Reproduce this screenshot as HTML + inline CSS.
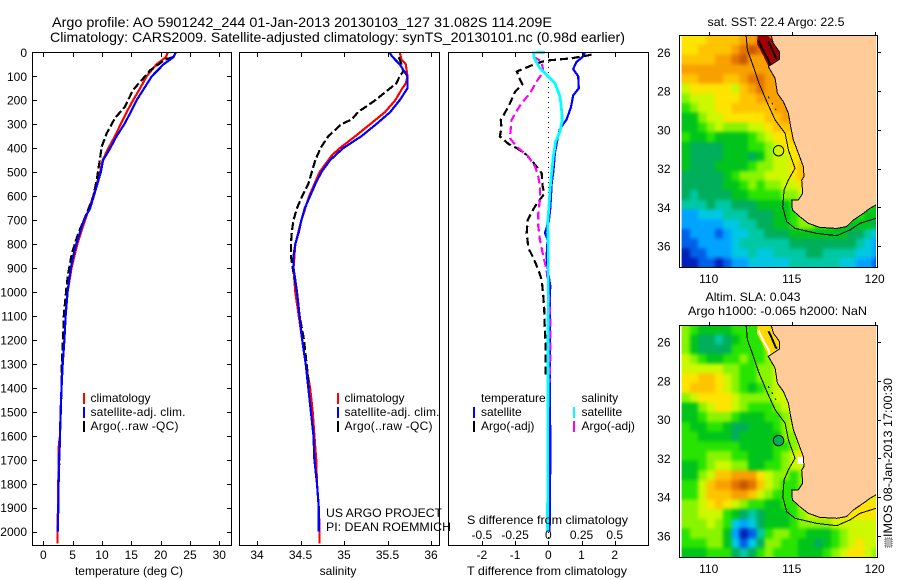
<!DOCTYPE html>
<html><head><meta charset="utf-8"><title>Argo profile</title>
<style>
html,body{margin:0;padding:0;background:#fff;width:900px;height:580px;overflow:hidden}
svg{display:block}
text{font-family:"Liberation Sans",sans-serif;font-size:12px;fill:#000}
.t{font-size:14px}
.ln{fill:none;shape-rendering:crispEdges;stroke-linejoin:round}
.box{fill:none;stroke:#000;stroke-width:1;shape-rendering:crispEdges}
</style></head><body>
<svg id="fig" width="900" height="580" viewBox="0 0 900 580" xmlns="http://www.w3.org/2000/svg">
<defs>
<filter id="smooth" x="-5%" y="-5%" width="110%" height="110%" color-interpolation-filters="sRGB"><feGaussianBlur stdDeviation="1.8"/></filter>
</defs>
<rect width="900" height="580" fill="#fff"/>
<text class="t" x="52" y="27" textLength="500" lengthAdjust="spacingAndGlyphs">Argo profile: AO 5901242_244 01-Jan-2013 20130103_127 31.082S 114.209E</text>
<text class="t" x="50" y="42" textLength="575" lengthAdjust="spacingAndGlyphs">Climatology: CARS2009. Satellite-adjusted climatology: synTS_20130101.nc (0.98d earlier)</text>
<g id="p1"></g>
<g id="p2"></g>
<g id="p3"></g>
<g id="m1"></g>
<g id="m2"></g>

<text x="129" y="575" text-anchor="middle">temperature (deg C)</text>
<text x="338" y="575" text-anchor="middle">salinity</text>
<text x="467" y="575" textLength="160" lengthAdjust="spacingAndGlyphs">T difference from climatology</text>
<text x="467" y="524" textLength="161" lengthAdjust="spacingAndGlyphs">S difference from climatology</text>

<g>
<rect x="83" y="393" width="2" height="11" fill="#f00"/><text x="90.5" y="402">climatology</text>
<rect x="83" y="407" width="2" height="11" fill="#00f"/><text x="90.5" y="416" textLength="95">satellite-adj. clim.</text>
<rect x="83" y="421" width="2" height="11" fill="#000"/><text x="90.5" y="430" textLength="88">Argo(..raw -QC)</text>
</g>
<g>
<rect x="337" y="393" width="2" height="11" fill="#f00"/><text x="344.5" y="402">climatology</text>
<rect x="337" y="407" width="2" height="11" fill="#00f"/><text x="344.5" y="416" textLength="95">satellite-adj. clim.</text>
<rect x="337" y="421" width="2" height="11" fill="#000"/><text x="344.5" y="430" textLength="88">Argo(..raw -QC)</text>
</g>
<g>
<text x="481" y="402">temperature</text>
<rect x="473" y="407" width="2" height="11" fill="#00f"/><text x="481" y="416">satellite</text>
<rect x="473" y="421" width="2" height="11" fill="#000"/><text x="481" y="430">Argo(-adj)</text>
<text x="581.5" y="402">salinity</text>
<rect x="573" y="407" width="2" height="11" fill="#0ff"/><text x="581.5" y="416">satellite</text>
<rect x="573" y="421" width="2" height="11" fill="#f0f"/><text x="581.5" y="430">Argo(-adj)</text>
</g>
<text x="326" y="517" textLength="116" lengthAdjust="spacingAndGlyphs">US ARGO PROJECT</text>
<text x="326" y="531" textLength="125" lengthAdjust="spacingAndGlyphs">PI: DEAN ROEMMICH</text>

<text x="707.5" y="26" textLength="137" lengthAdjust="spacingAndGlyphs">sat. SST: 22.4 Argo: 22.5</text>
<text x="705.5" y="301" textLength="95" lengthAdjust="spacingAndGlyphs">Altim. SLA: 0.043</text>
<text x="688" y="315" textLength="179" lengthAdjust="spacingAndGlyphs">Argo h1000: -0.065 h2000: NaN</text>
<text transform="translate(892,537) rotate(-90)" textLength="159" lengthAdjust="spacingAndGlyphs">IMOS 08-Jan-2013 17:00:30</text>
<rect x="885" y="538" width="7" height="9" fill="#bbb" stroke="#555" stroke-width="1" stroke-dasharray="1 1"/>

<script>
// ---------- depth axis ----------
const depthTicks = [0,100,200,300,400,500,600,700,800,900,1000,1100,1200,1300,1400,1500,1600,1700,1800,1900,2000];

// ---------- temperature profile ----------
const tempTicks = [0,5,10,15,20,25,30];
const climDepthT = [0,20,50,100,150,200,250,300,350,400,450,500,600,700,800,900,1000,1100,1200,1300,1400,1500,1600,1650,1700,1800,1900,2000,2050];
const climTemp = [21.2,20.9,19.3,17.6,16.5,15.3,14.2,13.2,12.2,11.1,10.1,9.7,8.5,7.1,5.8,4.8,4.15,3.8,3.6,3.3,3.1,2.95,2.85,2.6,2.6,2.55,2.5,2.4,2.4];
const satDepthT = [0,20,50,100,150,200,250,300,350,400,450,500,550,600,650,700,750,800,850,900,950,1000,1100,1200,1300,1400,1500,1600,1700,1800,1900,2000];
const satTemp = [22.6,22.2,20.5,18.5,17.2,15.9,14.9,13.8,12.5,11.4,10.2,9.8,9.2,8.6,8.0,6.9,6.25,5.6,5.1,4.7,4.4,4.15,3.8,3.6,3.3,3.1,2.95,2.85,2.7,2.6,2.55,2.45];
const argoDepthT = [20,30,75,115,157,227,275,338,394,464,533,603,672,756,840,923,980,1100,1200,1320,1400,1600,1800];
const argoTemp = [22.1,20.8,18.2,16.8,15.3,13.9,12.2,10.8,9.95,9.55,9.1,8.5,7.4,5.95,4.85,4.25,3.95,3.5,3.35,3.1,3.1,2.85,2.6];

// ---------- salinity profile ----------
const salTicks = [34,34.5,35,35.5,36];
const climDepthS = [0,30,50,100,130,150,200,250,300,350,400,430,450,500,600,700,800,900,1000,1100,1200,1300,1400,1500,1600,1700,1800,1900,2000,2050];
const climSal = [35.64,35.66,35.71,35.73,35.71,35.67,35.59,35.47,35.3,35.13,34.95,34.86,34.82,34.72,34.6,34.51,34.44,34.42,34.44,34.48,34.52,34.56,34.61,34.64,34.66,34.68,34.69,34.71,34.72,34.72];
const satDepthS = [0,20,50,100,150,200,250,300,350,400,430,450,500,550,600,650,700,750,800,850,900,950,1000,1100,1200,1300,1400,1500,1600,1700,1800,1900,2000];
const satSal = [35.52,35.56,35.64,35.73,35.73,35.64,35.53,35.37,35.2,34.99,34.9,34.84,34.74,34.67,34.61,34.55,34.51,34.48,34.44,34.42,34.42,34.44,34.46,34.49,34.52,34.56,34.59,34.62,34.65,34.66,34.69,34.71,34.71];
const argoDepthS = [20,50,80,100,130,150,200,250,280,300,350,400,450,500,550,600,650,700,750,800,850,900,1000,1100,1200,1300,1400];
const argoSal = [35.63,35.66,35.68,35.64,35.6,35.53,35.36,35.16,35.09,34.97,34.82,34.73,34.67,34.63,34.59,34.52,34.46,34.42,34.4,34.39,34.39,34.41,34.46,34.49,34.54,34.57,34.6];

// ---------- differences from climatology ----------
const diffTTicks = [-2,-1,0,1,2];
const diffSTicks = ["-0.5","-0.25","0","0.25","0.5"];
const diffSValues = [-0.5,-0.25,0,0.25,0.5];
const satDiffDepthT = [0,20,40,70,100,150,180,230,280,320,360,420,500,550,600,650,700,754,782,851,921,976,1000,1400,1700,2000];
const satDiffT = [1.1,1.03,0.85,0.75,0.9,0.92,0.75,0.68,0.55,0.35,0.28,0.2,0.15,0.1,0.08,0.06,0.02,-0.1,-0.02,-0.05,0,0.06,0.05,0.05,0.06,0.04];
const argoDiffDepthT = [10,25,35,49,80,115,133,164,212,251,282,317,351,382,400,428,469,504,560,590,643,699,754,817,858,907,949,1018,1075,1130,1214,1353];
const argoDiffT = [1.3,0.7,-0.1,-0.4,-0.95,-0.85,-0.78,-1.0,-1.15,-1.3,-1.43,-1.41,-1.46,-1.2,-0.95,-0.65,-0.4,-0.2,-0.17,-0.12,-0.4,-0.62,-0.65,-0.6,-0.45,-0.3,-0.2,-0.15,-0.12,-0.11,-0.08,-0.08];
const satDiffDepthS = [0,2,25,67,101,129,185,240,282,330,372,435,504,574,643,712,810,921,1400,2000];
const satDiffS = [-0.025,-0.113,-0.105,-0.063,0,0.05,0.088,0.1,0.105,0.088,0.055,0.038,0.025,0.013,0.005,-0.005,0,0,-0.003,-0.005];
const argoDiffDepthS = [18,39,80,122,171,212,247,282,324,358,393,435,476,518,560,615,671,726,782,851,907,976,1060,1158,1214,1380];
const argoDiffS = [-0.113,-0.05,-0.038,-0.088,-0.138,-0.2,-0.24,-0.276,-0.284,-0.289,-0.24,-0.15,-0.1,-0.075,-0.063,-0.063,-0.075,-0.075,-0.063,-0.038,-0.013,0,0.013,0.015,0.017,0.01];

// ---------- maps: palette levels on a 0.5 degree grid ----------
const levelColors = ["#0020b8","#0060e8","#00a4ff","#00c8e4","#00c8a4","#00ae5c","#00c41c","#28e400","#88f400","#ccf800","#ffe400","#ffc400","#f8a000","#e47400","#c85800","#a00000"];
const mapLonTicks = [110,115,120];
const mapLatTicks = [26,28,30,32,34,36];
const profileLon = [114.209];
const profileLat = [31.082];
const sstGrid = [
[10,10,10,11,11,11,11,12,12,13,13,13,13,12,12,12,12,12,12,12,12,12,12,12],
[10,10,11,11,11,11,12,13,14,13,13,13,12,12,12,12,12,12,12,12,12,12,12,12],
[11,11,11,11,12,12,13,14,12,12,12,12,12,12,12,12,12,12,12,12,12,12,12,12],
[12,12,12,12,12,12,12,12,12,12,12,12,12,12,12,12,12,12,12,12,12,12,12,12],
[11,11,12,12,12,11,11,12,13,13,12,12,12,12,12,12,12,12,12,12,12,12,12,12],
[9,10,10,10,10,10,9,11,12,13,12,12,12,12,12,12,12,12,12,12,12,12,12,12],
[8,9,9,9,10,10,10,11,11,12,12,12,12,12,12,12,12,12,12,12,12,12,12,12],
[7,8,9,9,10,10,11,11,11,11,11,12,12,12,12,12,12,12,12,12,12,12,12,12],
[6,6,8,9,9,10,10,10,10,10,11,11,12,12,12,12,12,12,12,12,12,12,12,12],
[6,6,7,8,9,8,8,8,9,9,10,11,11,11,12,12,12,12,12,12,12,12,12,12],
[7,6,6,7,6,6,6,6,7,8,9,10,10,11,11,12,12,12,12,12,12,12,12,12],
[6,5,5,5,5,6,6,6,7,7,8,9,10,10,11,11,11,12,12,12,12,12,12,12],
[6,5,5,5,5,6,6,6,5,6,8,9,9,10,10,11,11,12,12,12,12,12,12,12],
[6,5,5,5,6,6,6,6,7,8,8,9,9,10,11,11,11,12,12,12,12,12,12,12],
[5,5,5,5,5,6,7,8,8,8,9,9,9,10,11,11,11,11,11,11,11,11,11,11],
[5,5,5,5,5,6,6,7,8,7,8,8,9,9,10,10,10,10,10,10,10,10,10,10],
[5,4,5,5,5,5,6,6,7,7,7,7,8,8,9,10,10,10,10,10,10,10,10,10],
[4,4,4,5,4,4,5,5,5,6,6,6,6,7,8,9,9,9,9,9,9,8,7,6],
[2,2,3,3,3,4,4,4,5,5,5,6,6,7,8,9,7,7,7,7,7,7,6,6],
[2,2,2,2,2,3,3,4,4,5,5,6,6,7,8,8,7,7,6,6,6,6,6,5],
[1,2,2,2,1,2,3,3,4,4,5,5,5,6,6,6,6,6,6,6,5,5,4,3],
[1,1,2,2,2,2,3,4,4,4,4,4,4,5,5,5,5,5,5,5,5,4,3,2],
[0,1,1,2,2,2,3,3,4,3,3,4,4,4,4,5,5,4,4,4,4,3,3,2],
[0,0,1,1,0,1,2,2,3,3,3,3,3,4,4,4,4,4,4,3,3,2,2,1]
];
const slaGrid = [
[8,7,6,6,6,6,7,7,7,7,8,10,11,12,12,12,12,12,12,12,12,12,12,12],
[8,6,5,5,4,5,6,7,7,7,8,9,11,11,12,12,12,12,12,12,12,12,12,12],
[8,6,5,5,5,5,7,7,7,7,8,9,10,11,12,12,12,12,12,12,12,12,12,12],
[9,8,7,6,6,7,7,8,7,7,8,9,10,11,12,12,12,12,12,12,12,12,12,12],
[9,9,9,9,9,8,8,7,7,8,8,9,9,10,11,12,12,12,12,12,12,12,12,12],
[10,10,11,11,10,9,8,7,7,8,8,9,9,10,11,11,12,12,12,12,12,12,12,12],
[10,11,11,11,10,9,8,7,6,7,8,9,9,10,11,11,12,12,12,12,12,12,12,12],
[8,9,10,10,10,10,9,8,8,8,8,9,9,10,11,11,12,12,12,12,12,12,12,12],
[6,6,8,9,10,10,9,8,7,7,7,8,9,9,10,11,11,12,12,12,12,12,12,12],
[6,6,7,8,8,8,7,6,6,6,7,7,8,9,9,11,11,12,12,12,12,12,12,12],
[7,6,6,7,7,6,5,5,6,6,6,7,8,9,9,10,11,12,12,12,12,12,12,12],
[7,7,6,6,6,6,5,6,6,6,6,6,8,8,9,10,11,11,12,12,12,12,12,12],
[7,7,7,7,7,7,7,6,6,6,6,7,7,8,9,9,10,11,12,12,12,12,12,12],
[7,7,7,8,8,8,7,7,6,6,6,7,8,9,10,9,9,11,12,12,12,12,12,12],
[6,6,7,8,9,9,8,8,6,6,7,7,8,9,9,8,10,11,12,12,12,12,12,12],
[6,6,8,9,11,11,12,12,12,10,9,8,8,7,8,9,11,12,12,12,12,12,12,12],
[7,7,9,11,12,12,13,14,13,11,9,8,7,7,8,9,10,12,12,12,12,12,12,12],
[7,7,9,11,11,11,12,12,11,9,8,7,7,7,8,10,8,9,10,10,10,10,9,9],
[8,8,9,10,11,10,9,8,7,7,6,6,7,7,9,10,10,9,10,10,10,10,10,10],
[8,8,9,9,9,7,6,5,4,5,6,6,6,7,8,9,10,10,10,10,10,10,10,10],
[8,8,8,9,8,7,3,2,3,5,6,6,6,7,8,8,8,8,9,9,9,9,9,9],
[7,8,8,8,8,6,2,0,1,4,7,8,8,7,7,6,6,6,7,8,9,9,9,9],
[7,7,7,8,8,6,3,1,3,5,8,8,7,7,6,6,5,6,7,8,9,10,9,9],
[6,6,6,7,7,7,5,4,5,7,8,7,7,7,6,6,6,7,8,9,10,10,9,8]
];
const coastLon = [113.76,113.9,114.26,114.26,113.59,114.0,114.14,114.5,114.8,114.94,115.1,115.4,115.7,115.74,115.6,115.66,115.4,115.0,115.04,115.5,116.0,116.7,117.71,118.31,118.71,119.32,119.72,120.08];
const coastLat = [25.12,25.54,25.97,26.36,26.74,27.34,28.12,28.55,29.15,29.84,30.53,31.2,31.9,32.42,32.6,33.28,33.62,33.62,34.14,34.49,34.83,35.04,35.09,35.0,34.66,34.31,34.05,33.88];
const isobathLon = [112.25,112.33,112.69,113.03,113.59,114.0,114.6,114.8,115.2,114.8,114.54,114.46,114.7,115.2,116.51,117.71,118.51,119.12,120.08];
const isobathLat = [25.12,25.88,26.74,27.6,28.72,29.49,30.18,31.04,31.99,32.59,33.11,33.97,34.74,35.09,35.35,35.47,35.17,34.83,34.57];
const bayLon = [112.95,113.55,113.76,114.26,114.26,113.59,113.3,112.9];
const bayLat = [25.12,25.12,25.3,25.97,26.36,26.72,26.2,25.55];
const bayInnerLon = [113.0,113.3,113.6,113.7];
const bayInnerLat = [25.4,25.95,26.4,26.7];
const bayInner2Lon = [113.6,113.8,114.0,114.1];
const bayInner2Lat = [25.45,25.8,26.2,26.35];
const islandLon = [113.59,114.06];
const islandLat = [28.29,28.98];
const perthPatchLon = [115.35,115.7,115.7,115.35];
const perthPatchLat = [31.93,31.93,32.3,32.3];

const NS = 'http://www.w3.org/2000/svg';
function el(parent, tag, attrs, name) {
  const e = document.createElementNS(NS, tag);
  for (const k in attrs) e.setAttribute(k, attrs[k]);
  
  
  parent.appendChild(e);
  return e;
}
function label(parent, x, y, txt, anchor, name) {
  const e = el(parent, 'text', {x: x, y: y, 'text-anchor': anchor}, name);
  e.textContent = txt;
  return e;
}
const yDepth = d => 52.3 + 0.2397 * d;
const xTemp = t => 43.3 + 5.867 * t;
const xSal = s => 257 + 87 * (s - 34);
const xDiffT = t => 548.3 + 33.2 * t;
const xDiffS = s => 548.3 + 132.8 * s;
function line(parent, xs, ys, xf, color, w, dash, name) {
  const pts = xs.map((v, i) => xf(v).toFixed(1) + ',' + yDepth(ys[i]).toFixed(1)).join(' ');
  const a = {points: pts, stroke: color, 'stroke-width': w, class: 'ln'};
  if (dash) a['stroke-dasharray'] = dash;
  return el(parent, 'polyline', a, name);
}
function panelBox(g, x0, x1) {
  el(g, 'rect', {x: x0, y: 52.5, width: x1 - x0, height: 493, class: 'box', fill: 'none'}, 'plot-frame');
}
function xTicks(g, vals, xf, labels) {
  vals.forEach((v, i) => {
    const x = Math.round(xf(v)) + 0.5;
    el(g, 'path', {d: `M${x} 52V57M${x} 546V541`, stroke: '#000', 'stroke-width': 1, 'shape-rendering': 'crispEdges'}, 'x-tick');
    label(g, xf(v), 559, labels ? labels[i] : String(v), 'middle', 'x-tick-label');
  });
}

// Temperature panel
const p1 = document.getElementById('p1');
line(p1, climTemp, climDepthT, xTemp, '#f00', 2.2, null, 'climatology-temperature-line');
line(p1, argoTemp, argoDepthT, xTemp, '#000', 2.2, '8 3', 'argo-temperature-line');
line(p1, satTemp, satDepthT, xTemp, '#00f', 2.2, null, 'satellite-temperature-line');
panelBox(p1, 32.5, 231.5);
xTicks(p1, tempTicks, xTemp);
depthTicks.forEach(d => {
  const y = Math.round(yDepth(d)) + 0.5;
  el(p1, 'path', {d: `M32 ${y}H37M232 ${y}H227`, stroke: '#000', 'stroke-width': 1, 'shape-rendering': 'crispEdges'}, 'y-tick');
  label(p1, 27, yDepth(d) + 4.5, String(d), 'end', 'y-tick-label');
});

// Salinity panel
const p2 = document.getElementById('p2');
line(p2, climSal, climDepthS, xSal, '#f00', 2.2, null, 'climatology-salinity-line');
line(p2, argoSal, argoDepthS, xSal, '#000', 2.2, '8 3', 'argo-salinity-line');
line(p2, satSal, satDepthS, xSal, '#00f', 2.2, null, 'satellite-salinity-line');
panelBox(p2, 239.5, 439.5);
xTicks(p2, salTicks, xSal);

// Difference panel
const p3 = document.getElementById('p3');
el(p3, 'line', {x1: 548.5, y1: 52, x2: 548.5, y2: 546, stroke: '#000', 'stroke-width': 1, 'stroke-dasharray': '1 4', 'shape-rendering': 'crispEdges'}, 'zero-line');
line(p3, argoDiffT, argoDiffDepthT, xDiffT, '#000', 2.2, '8 4', 'argo-t-difference-line');
line(p3, satDiffT, satDiffDepthT, xDiffT, '#00f', 2.2, null, 'satellite-t-difference-line');
line(p3, argoDiffS, argoDiffDepthS, xDiffS, '#f0f', 2.2, '8 4', 'argo-s-difference-line');
line(p3, satDiffS, satDiffDepthS, xDiffS, '#0ff', 2.8, null, 'satellite-s-difference-line');
panelBox(p3, 448.5, 648.5);
xTicks(p3, diffTTicks, xDiffT);
diffSValues.forEach((v, i) => {
  label(p3, xDiffS(v), 539, diffSTicks[i], 'middle', 's-tick-label');
});

// Maps
function drawMap(id, grid, top, bottom, lat26, lat36, xLabelY, opts) {
  const g = document.getElementById(id);
  const xLon = lon => 708.7 + 16.6 * (lon - 110);
  const pxPerLat = (lat36 - lat26) / 10;
  const yLat = lat => lat26 + pxPerLat * (lat - 26);
  const clipId = id + '-clip';
  const defs = el(g, 'defs', {}, 'map-defs');
  const clip = el(defs, 'clipPath', {id: clipId}, 'map-clip');
  el(clip, 'rect', {x: 681.7, y: top, width: 194.3, height: bottom - top}, 'map-clip-rect');
  const body = el(g, 'g', {'clip-path': `url(#${clipId})`}, 'map-image');
  const cells = el(body, 'g', {id: id + '-cells'}, 'heatmap-cells');
  const w = 16.6 * 0.5, h = pxPerLat * 0.5;
  grid.forEach((row, j) => {
    row.forEach((v, i) => {
      const x = xLon(108.37 + 0.5 * i), y = yLat(25.12 + 0.5 * j);
      el(cells, 'rect', {x: x.toFixed(2), y: y.toFixed(2), width: (w + 0.4).toFixed(2), height: (h + 0.4).toFixed(2), fill: levelColors[v], 'shape-rendering': 'crispEdges'}, 'heatmap-cell');
    });
  });
  el(body, 'use', {href: '#' + id + '-cells', filter: 'url(#smooth)'}, 'heatmap-smoothed');
  const poly = (lons, lats) => lons.map((v, i) => xLon(v).toFixed(1) + ',' + yLat(lats[i]).toFixed(1)).join(' ');
  el(body, 'polygon', {points: poly(bayLon, bayLat), fill: opts.bayFill, 'shape-rendering': 'crispEdges'}, 'shark-bay');
  el(body, 'polyline', {points: poly(bayInnerLon, bayInnerLat), fill: 'none', stroke: opts.bayLine, 'stroke-width': 2, 'shape-rendering': 'crispEdges'}, 'shark-bay-west-shore');
  el(body, 'polyline', {points: poly(bayInner2Lon, bayInner2Lat), fill: 'none', stroke: opts.bayLine2, 'stroke-width': 2, 'shape-rendering': 'crispEdges'}, 'shark-bay-east-shore');
  if (opts.patch) {
    el(body, 'polygon', {points: poly(perthPatchLon, perthPatchLat), fill: '#fff', 'shape-rendering': 'crispEdges'}, 'no-data-patch');
  }
  const landPts = poly(coastLon, coastLat) + ' ' + poly([120.3, 120.3], [33.88, 25.0]) + ' ' + poly([113.76], [25.0]);
  el(body, 'polygon', {points: landPts, fill: '#ffcc99', 'shape-rendering': 'crispEdges'}, 'land');
  el(body, 'polyline', {points: poly(coastLon, coastLat), fill: 'none', stroke: '#000', 'stroke-width': 1, 'shape-rendering': 'crispEdges'}, 'coastline');
  el(body, 'polyline', {points: poly(isobathLon, isobathLat), fill: 'none', stroke: '#000', 'stroke-width': 1, 'shape-rendering': 'crispEdges'}, 'isobath');
  el(body, 'polyline', {points: poly(islandLon, islandLat), fill: 'none', stroke: '#000', 'stroke-width': 1, 'stroke-dasharray': '2 5', 'shape-rendering': 'crispEdges'}, 'abrolhos-islands');
  el(body, 'circle', {cx: xLon(profileLon[0]), cy: yLat(profileLat[0]), r: 5.2, fill: opts.dot, stroke: '#000', 'stroke-width': 1}, 'argo-profile-location');
  el(g, 'rect', {x: 679.5, y: top + 0.5, width: 198, height: bottom - top, class: 'box', fill: 'none'}, 'map-frame');
  mapLonTicks.forEach(v => {
    const x = Math.round(xLon(v)) + 0.5;
    el(g, 'path', {d: `M${x} ${top}v-3`, stroke: '#000', 'stroke-width': 1, 'shape-rendering': 'crispEdges'}, 'map-x-tick');
    label(g, xLon(v), xLabelY, String(v), 'middle', 'map-x-label');
  });
  mapLatTicks.forEach(v => {
    const y = Math.round(yLat(v)) + 0.5;
    el(g, 'path', {d: `M878 ${y}h3`, stroke: '#000', 'stroke-width': 1, 'shape-rendering': 'crispEdges'}, 'map-y-tick');
    label(g, 670.5, yLat(v) + 4.5, String(v), 'end', 'map-y-label');
  });
}
drawMap('m1', sstGrid, 35, 267, 52.3, 246, 283, {bayFill: '#a00000', bayLine: '#000', bayLine2: '#000', dot: 'none', patch: false});
drawMap('m2', slaGrid, 325, 557, 342, 536, 573, {bayFill: '#ffd800', bayLine: '#fff', bayLine2: '#000', dot: levelColors[5], patch: true});
</script>
</svg>
</body></html>
